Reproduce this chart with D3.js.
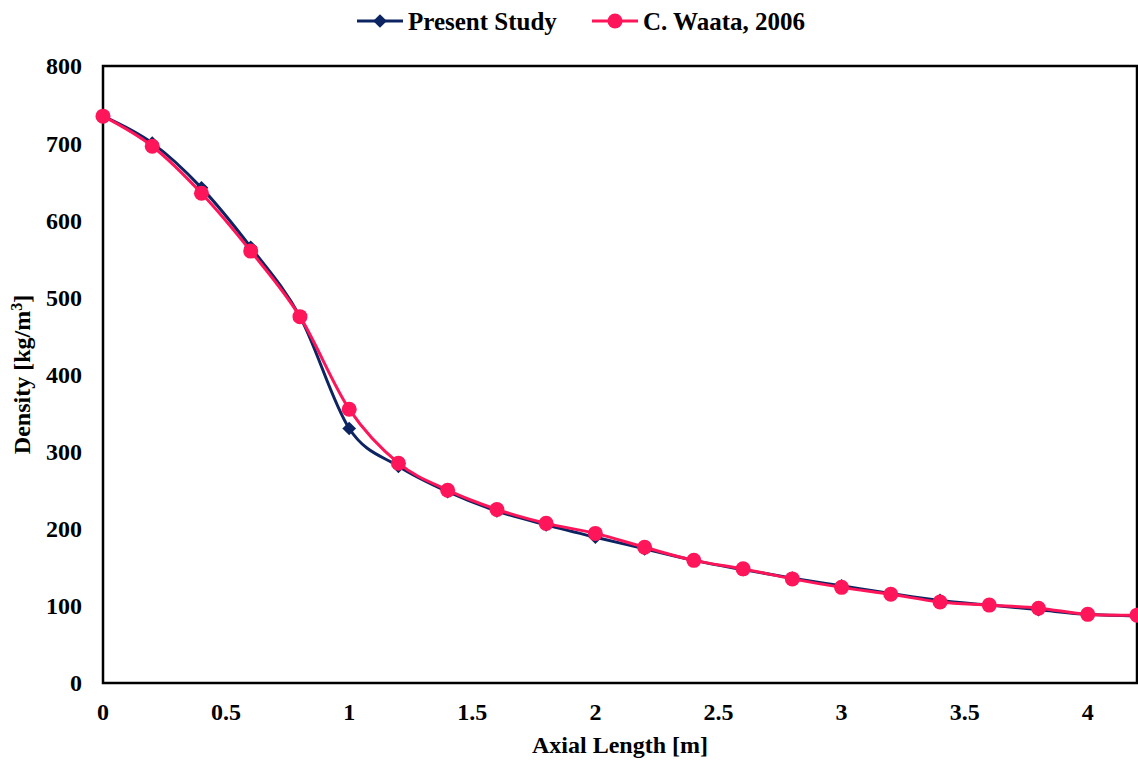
<!DOCTYPE html>
<html>
<head>
<meta charset="utf-8">
<script src="https://cdn.jsdelivr.net/npm/d3@7"></script>
<style>
  body { margin: 0; background: #fff; }
  text { font-family: "Liberation Serif", "Times New Roman", serif; font-weight: bold; fill: #000; }
</style>
</head>
<body>
<div id="chart"></div>
<script>
// axial positions [m]
var axialLength = [0, 0.2, 0.4, 0.6, 0.8, 1.0, 1.2, 1.4, 1.6, 1.8, 2.0, 2.2, 2.4, 2.6, 2.8, 3.0, 3.2, 3.4, 3.6, 3.8, 4.0, 4.2];
// density [kg/m3]
var presentStudy = [735, 700, 642, 565, 475, 330, 281, 248, 223, 205, 189, 174, 159, 147, 136, 126, 116, 107, 101, 95, 89, 87];
var waata2006 = [735, 696, 635, 560, 475, 355, 285, 250, 225, 207, 194, 176, 159, 148, 135, 124, 115, 105, 101, 97, 89, 88];
var seriesNames = ["Present Study", "C. Waata, 2006"];
var xTicks = [0, 0.5, 1, 1.5, 2, 2.5, 3, 3.5, 4];
var yTicks = [0, 100, 200, 300, 400, 500, 600, 700, 800];

var width = 1138, height = 760;
var margin = { top: 66, right: 1, bottom: 77, left: 103 };

var blue = "#0c2461", red = "#ff1559";

var svg = d3.select('#chart').append('svg')
  .attr('width', width)
  .attr('height', height);

var x = d3.scaleLinear().domain([0, 4.2]).range([margin.left, width - margin.right]);
var y = d3.scaleLinear().domain([0, 800]).range([height - margin.bottom, margin.top]);

// frame
svg.append('rect')
  .attr('x', margin.left).attr('y', margin.top)
  .attr('width', x(4.2) - margin.left).attr('height', y(0) - margin.top)
  .attr('fill', 'none').attr('stroke', '#000').attr('stroke-width', 2.5);

// y axis labels
svg.append('g').selectAll('text').data(yTicks).enter().append('text')
  .attr('x', 82).attr('y', function (d) { return y(d); })
  .attr('dy', '0.35em').attr('text-anchor', 'end')
  .style('font-size', '24px')
  .text(function (d) { return d; });

// x axis labels
svg.append('g').selectAll('text').data(xTicks).enter().append('text')
  .attr('x', function (d) { return x(d); }).attr('y', 720)
  .attr('text-anchor', 'middle')
  .style('font-size', '24px')
  .text(function (d) { return d; });

// axis titles
svg.append('text')
  .attr('x', (margin.left + width - margin.right) / 2).attr('y', 753)
  .attr('text-anchor', 'middle').style('font-size', '24px')
  .text('Axial Length [m]');

var yt = svg.append('text')
  .attr('transform', 'translate(30,' + ((margin.top + height - margin.bottom) / 2) + ') rotate(-90)')
  .attr('text-anchor', 'middle').style('font-size', '24px');
yt.append('tspan').text('Density [kg/m');
yt.append('tspan').attr('dy', -8).style('font-size', '16px').text('3');
yt.append('tspan').attr('dy', 8).text(']');

var line = d3.line()
  .x(function (d, i) { return x(axialLength[i]); })
  .y(function (d) { return y(d); })
  .curve(d3.curveCatmullRom.alpha(0));

var plot = svg.append('g');

// present study: line + diamonds
plot.append('path').datum(presentStudy)
  .attr('d', line).attr('fill', 'none')
  .attr('stroke', blue).attr('stroke-width', 3);
plot.selectAll('.diamond').data(presentStudy).enter().append('path')
  .attr('class', 'diamond')
  .attr('d', d3.symbol().type(d3.symbolDiamond2).size(120))
  .attr('transform', function (d, i) { return 'translate(' + x(axialLength[i]) + ',' + y(d) + ')'; })
  .attr('fill', blue);

// waata 2006: line + circles
plot.append('path').datum(waata2006)
  .attr('d', line).attr('fill', 'none')
  .attr('stroke', red).attr('stroke-width', 3);
plot.selectAll('.dot').data(waata2006).enter().append('circle')
  .attr('class', 'dot')
  .attr('cx', function (d, i) { return x(axialLength[i]); })
  .attr('cy', function (d) { return y(d); })
  .attr('r', 7.5)
  .attr('fill', red);

// legend
var legend = svg.append('g');
var lx = [357, 592];
seriesNames.forEach(function (name, i) {
  var g = legend.append('g').attr('transform', 'translate(' + lx[i] + ',21)');
  var c = i === 0 ? blue : red;
  g.append('line').attr('x1', 0).attr('x2', 46).attr('y1', 0).attr('y2', 0)
    .attr('stroke', c).attr('stroke-width', 3);
  if (i === 0) {
    g.append('path').attr('d', d3.symbol().type(d3.symbolDiamond2).size(120))
      .attr('transform', 'translate(23,0)').attr('fill', c);
  } else {
    g.append('circle').attr('cx', 23).attr('cy', 0).attr('r', 7.5).attr('fill', c);
  }
  g.append('text').attr('x', 51).attr('dy', '0.35em')
    .style('font-size', '25px').text(name);
});
</script>
</body>
</html>
